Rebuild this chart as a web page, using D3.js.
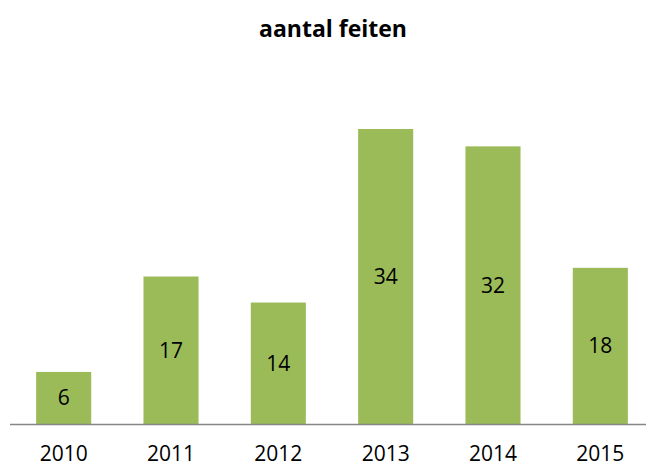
<!DOCTYPE html>
<html>
<head>
<meta charset="utf-8">
<script src="https://cdn.jsdelivr.net/npm/d3@7"></script>
<style>
  body { margin: 0; background: #fff; }
  text { font-family: "Open Sans", sans-serif; fill: #000; }
</style>
</head>
<body>
<svg id="chart" width="646" height="469"></svg>
<script>
const years = ['2010', '2011', '2012', '2013', '2014', '2015'];
const counts = [6, 17, 14, 34, 32, 18];
const title = 'aantal feiten';

const width = 646;
const height = 469;
const baseline = 424;

const svg = d3.select('#chart');

// scales
const x = d3.scaleBand().domain(years).range([10, 654]).paddingInner(0.487).paddingOuter(0.2435);
const y = d3.scaleLinear().domain([0, 34]).range([baseline, 129]);

svg.append('text')
  .attr('x', 333)
  .attr('y', 37)
  .attr('text-anchor', 'middle')
  .style('font-size', '23px')
  .style('font-weight', 'bold')
  .text(title);

const data = years.map((yr, i) => ({ year: yr, value: counts[i] }));

svg.selectAll('rect.bar')
  .data(data)
  .enter()
  .append('rect')
  .attr('class', 'bar')
  .attr('x', d => x(d.year))
  .attr('y', d => y(d.value))
  .attr('width', x.bandwidth())
  .attr('height', d => baseline - y(d.value))
  .attr('fill', '#9bbb59');

svg.selectAll('text.val')
  .data(data)
  .enter()
  .append('text')
  .attr('class', 'val')
  .attr('x', d => x(d.year) + x.bandwidth() / 2)
  .attr('y', d => (y(d.value) + baseline) / 2)
  .attr('dy', '0.35em')
  .attr('text-anchor', 'middle')
  .style('font-size', '21px')
  .text(d => d.value);

// x axis: a plain line with year labels under it
const xAxis = d3.axisBottom(x).tickSize(0).tickPadding(0);
const gx = svg.append('g')
  .attr('transform', `translate(0,${baseline})`)
  .call(xAxis);
gx.select('.domain').attr('d', 'M10,0.5H646').attr('stroke', '#868686').attr('stroke-width', 1.5);
gx.selectAll('.tick text')
  .attr('y', 37)
  .attr('dy', 0)
  .style('font-family', '"Open Sans", sans-serif')
  .style('font-size', '21px')
  .attr('fill', '#000');
</script>
</body>
</html>
